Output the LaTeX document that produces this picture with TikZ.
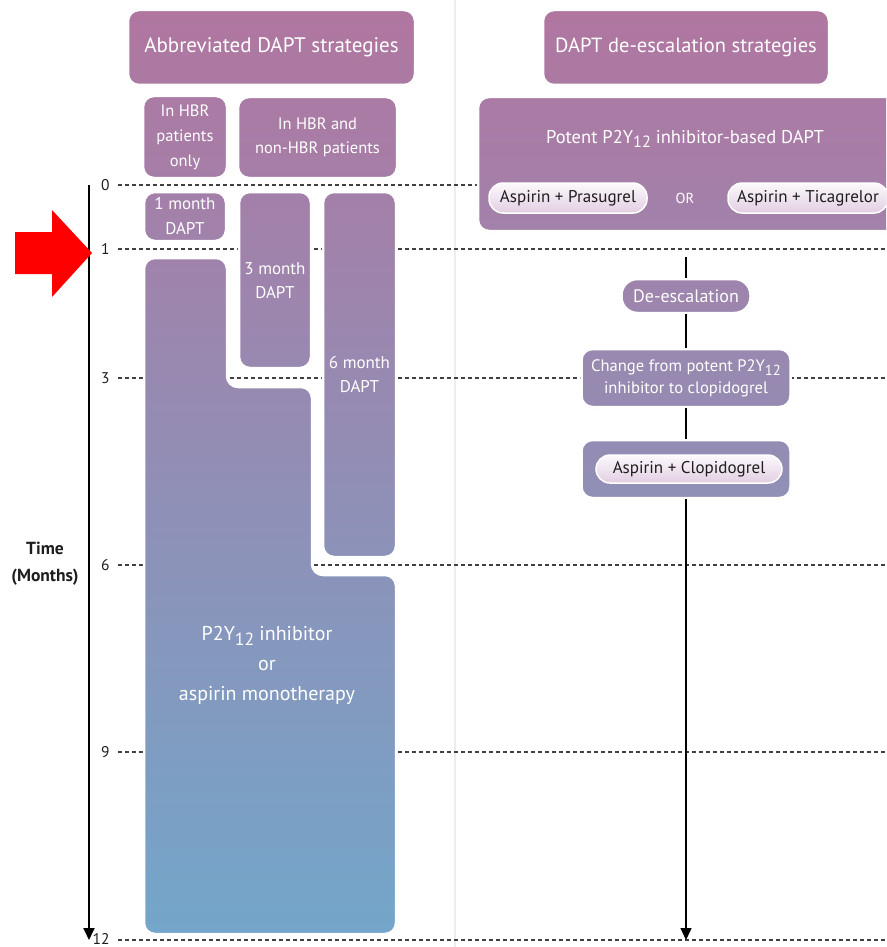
\documentclass[tikz,border=0pt]{standalone}
\usepackage{fontspec}
\setmainfont{PT Sans}
\usetikzlibrary{arrows.meta,shadows}
\definecolor{gtop}{RGB}{176,118,160}
\definecolor{gbot}{RGB}{115,166,202}
\definecolor{pilltop}{RGB}{252,249,252}
\definecolor{pillbot}{RGB}{226,206,226}
\definecolor{ink}{RGB}{30,30,30}
\newcommand\subtw[1]{\raisebox{-0.5ex}{\scalebox{0.88}{#1}}}
\tikzset{
  box/.style={rounded corners=11pt, draw=white, line width=2.5pt,
    drop shadow={opacity=0.12, shadow xshift=0.8pt, shadow yshift=-1pt}},
  nbox/.style={box, inner sep=0pt, text=white, align=center},
  pill/.style={rounded corners=14pt, draw=white, line width=1.5pt, inner sep=0pt,
    top color=pilltop, bottom color=pillbot, text=ink},
  dline/.style={draw=black!75, line width=1.2pt, dash pattern=on 4pt off 3pt},
  tick/.style={anchor=east, text=ink, font=\fontsize{15.5}{18}\selectfont},
  conn/.style={draw=black, line width=1.4pt},
  lbl/.style={text=white, align=center},
}
\begin{document}
\begin{tikzpicture}[x=1pt,y=-1pt]
\useasboundingbox (0,0) rectangle (886,947);
\clip (0,0) rectangle (886,947);
% faint separator
\draw[black!7, line width=1.5pt] (455,0) -- (455,947);
% dashed month lines
\foreach \yy in {185,249,378,565,752,940} \draw[dline] (118,\yy) -- (886,\yy);
% tick labels
\node[tick] (t0) at (113,185) {0};
\node[tick] (t1) at (113,249) {1};
\node[tick] (t3) at (113,378) {3};
\node[tick] (t6) at (113,565) {6};
\node[tick] (t9) at (113,752) {9};
\node[tick] (t12) at (113,939) {12};
% axis
\coordinate (ax0) at (89,185);
\coordinate (ax1) at (89,940);
\draw[line width=1.8pt, -{Triangle[width=11pt,length=12pt]}] (ax0) -- (ax1);
\node[text=ink, align=center, font=\bfseries\fontsize{17.5}{27}\selectfont] (time) at (45,564) {Time\\(Months)};
% red arrow
\fill[red] (15,232) -- (52,232) -- (52,210) -- (92,253) -- (52,297) -- (52,274) -- (15,274) -- cycle;

% ---------- left: abbreviated DAPT ----------
\node[nbox, minimum width=287, minimum height=75, top color=gtop, bottom color=gbot!8!gtop,
  font=\fontsize{21}{25}\selectfont] (h1) at (271.5,47.5) {Abbreviated DAPT strategies};
\node[nbox, minimum width=84, minimum height=82, top color=gbot!9!gtop, bottom color=gbot!18!gtop,
  font=\fontsize{16.5}{25}\selectfont] (hbr1) at (185,137) {In HBR\\patients\\only};
\node[nbox, minimum width=159, minimum height=81, top color=gbot!9!gtop, bottom color=gbot!18!gtop,
  font=\fontsize{16.5}{24}\selectfont] (hbr2) at (317.5,137.5) {In HBR and\\non-HBR patients};
\node[nbox, minimum width=82, minimum height=49, top color=gbot!20!gtop, bottom color=gbot!25!gtop,
  font=\fontsize{17}{25}\selectfont] (m1) at (185,216.5) {1 month\\DAPT};
\node[nbox, minimum width=72, minimum height=176, top color=gbot!20!gtop, bottom color=gbot!39!gtop] (m3) at (275,280) {};
\node[lbl, font=\fontsize{17}{24}\selectfont] (m3t) at (275,281) {3 month\\DAPT};
\node[nbox, minimum width=73, minimum height=365, top color=gbot!20!gtop, bottom color=gbot!59!gtop] (m6) at (359.5,374.5) {};
\node[lbl, font=\fontsize{17}{24}\selectfont] (m6t) at (359.5,375) {6 month\\DAPT};
\path[box, top color=gbot!27!gtop, bottom color=gbot]
  (144,934) -- (144,258) -- (227,258) -- (227,387) -- (312,387) -- (312,575) -- (396,575) -- (396,934) -- cycle;
\node[lbl, font=\fontsize{20}{30}\selectfont] (mono) at (267,665) {P2Y\subtw{12} inhibitor\\or\\aspirin monotherapy};

% ---------- right: de-escalation ----------
\node[nbox, minimum width=286, minimum height=75, top color=gtop, bottom color=gbot!8!gtop,
  font=\fontsize{20.5}{25}\selectfont] (h2) at (686,47.5) {DAPT de-escalation strategies};
\node[nbox, minimum width=422, minimum height=134, top color=gbot!9!gtop, bottom color=gbot!24!gtop] (pot) at (689,164) {};
\node[lbl, font=\fontsize{18.5}{22}\selectfont] (pott) at (685,139) {Potent P2Y\subtw{12} inhibitor-based DAPT};
\node[pill, minimum width=158, minimum height=30, font=\fontsize{17}{18}\selectfont] (pras) at (568,198) {Aspirin + Prasugrel};
\node[lbl, font=\fontsize{14.5}{18}\selectfont] (or) at (685,198) {OR};
\node[pill, minimum width=160, minimum height=30, font=\fontsize{17}{18}\selectfont] (tica) at (808,198) {Aspirin + Ticagrelor};

\node[nbox, rounded corners=16pt, minimum width=129, minimum height=34, top color=gbot!29!gtop, bottom color=gbot!33!gtop,
  font=\fontsize{18}{20}\selectfont] (desc) at (686,296) {De-escalation};
\node[nbox, minimum width=209, minimum height=58, top color=gbot!37!gtop, bottom color=gbot!43!gtop,
  font=\fontsize{16.6}{22}\selectfont] (chg) at (686,378) {Change from potent P2Y\subtw{12}\\inhibitor to clopidogrel};
\node[nbox, minimum width=209, minimum height=58, top color=gbot!46!gtop, bottom color=gbot!53!gtop] (clo) at (686,469) {};
\node[pill, minimum width=186, minimum height=28, font=\fontsize{17}{18}\selectfont] (clop) at (689,469) {Aspirin + Clopidogrel};

\coordinate (v0) at (686,257);
\coordinate (v1) at (686,940);
\draw[conn] (v0) -- (desc);
\draw[conn] (desc) -- (chg);
\draw[conn] (chg) -- (clo);
\draw[conn, -{Triangle[width=11pt,length=12pt]}] (clo) -- (v1);
\end{tikzpicture}
\end{document}
